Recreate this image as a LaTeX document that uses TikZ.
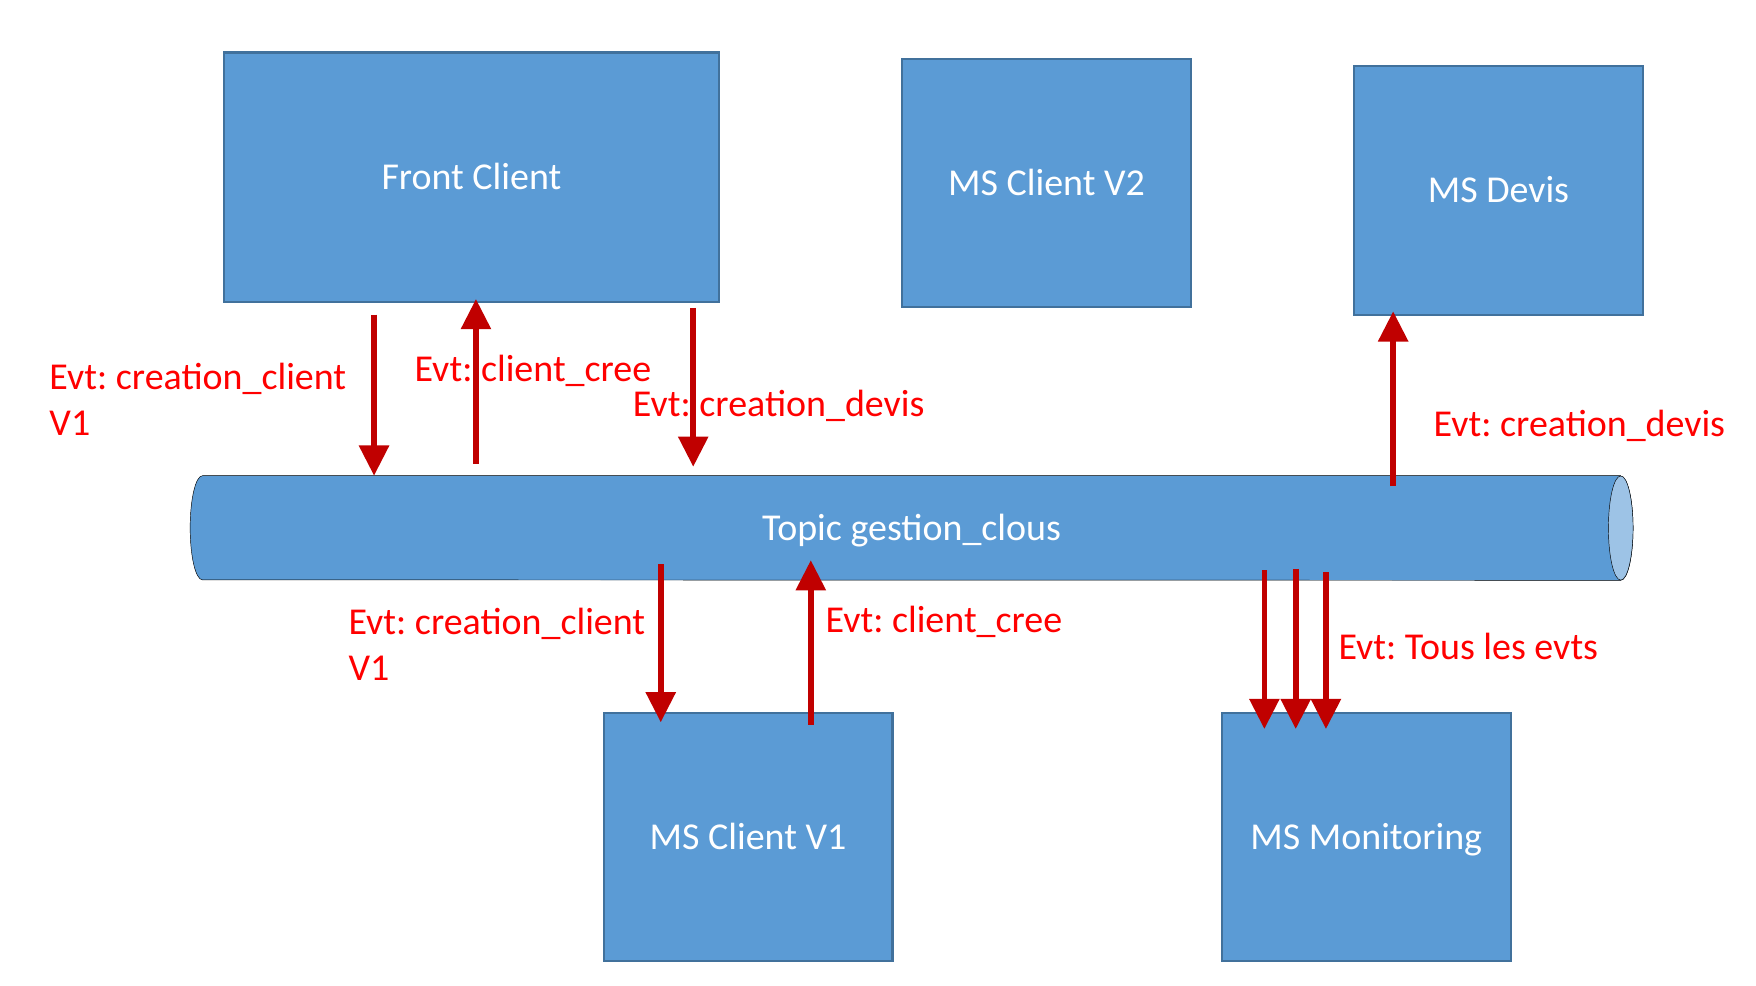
\documentclass[tikz,border=0pt]{standalone}
\usepackage{fontspec}
\setmainfont{Carlito}
\usetikzlibrary{arrows.meta,backgrounds}
\definecolor{boxblue}{HTML}{5B9BD5}
\definecolor{boxedge}{HTML}{41719C}
\definecolor{endblue}{HTML}{9DC3E6}
\definecolor{evtred}{HTML}{C00000}
\definecolor{lblred}{HTML}{FF0000}
\frenchspacing

\begin{document}
\begin{tikzpicture}[x=1pt,y=1pt,
    every node/.style={font=\fontsize{33.9}{41}\selectfont},
    service/.style={draw=boxedge,fill=boxblue,line width=2pt,text=white,
      inner sep=0pt,text height=21.7pt,text depth=0pt,
      minimum width=258pt,minimum height=222pt},
    evt/.style={evtred,line width=5pt,-{Triangle[width=26pt,length=27pt]}},
    lbl/.style={text=lblred,anchor=west,align=left,inner sep=0pt}]
  \useasboundingbox (0,-4.6) rectangle (1568,875);
  % services
  \node[service,minimum width=442pt,minimum height=223pt] (front) at (421,716.5) {Front Client};
  \node[service,minimum height=221pt] (clientv2) at (934.5,711.5) {MS Client V2};
  \node[service] (devis) at (1338,705) {MS Devis};
  \node[service,minimum height=221pt] (clientv1) at (668,127.5) {MS Client V1};
  \node[service,minimum height=221pt] (monitoring) at (1220,127.5) {MS Monitoring};
  % topic
  \node[text=white,inner sep=0pt,text height=21.7pt,text depth=0pt,
    minimum width=1266pt,minimum height=93pt] (topic) at (814,403.5) {Topic gestion\_clous};
  \begin{scope}[on background layer,draw=boxedge,line width=2pt]
    \filldraw[fill=boxblue] (topic.north east) -- (topic.north west)
      arc[start angle=90,end angle=270,x radius=11,y radius=46.5]
      -- (topic.south east)
      arc[start angle=-90,end angle=90,x radius=11,y radius=46.5] -- cycle;
    \filldraw[fill=endblue] (topic.east) ellipse [x radius=11,y radius=46.5];
  \end{scope}
  % events
  \coordinate (c1) at (334,594);
  \draw[evt] (c1) -- (c1 |- topic.north);
  \coordinate (p1) at (425,461);
  \draw[evt] (p1) -- ([yshift=4pt]p1 |- front.south);
  \coordinate (c2) at (619,600);
  \draw[evt] (c2) -- ([yshift=8pt]c2 |- topic.north);
  \coordinate (p2) at (1244,441);
  \draw[evt] (p2) -- ([yshift=4pt]p2 |- devis.south);
  \coordinate (c3) at (590,371);
  \draw[evt] (c3) -- ([yshift=-9pt]c3 |- clientv1.north);
  \coordinate (p3) at (724,228);
  \draw[evt] (p3) -- ([yshift=18pt]p3 |- topic.south);
  \foreach \x/\y in {1129/366,1157/367,1184/364}
    \draw[evt] (\x,\y) -- ([yshift=-15pt]\x,0 |- monitoring.north);
  % labels
  \node[lbl] (l1) at (44,518.5) {Evt: creation\_client\\V1};
  \node[lbl] (l2) at (370,544) {Evt: client\_cree};
  \node[lbl] (l3) at (565,513) {Evt: creation\_devis};
  \node[lbl] (l4) at (1280,495) {Evt: creation\_devis};
  \node[lbl] (l5) at (311,299.5) {Evt: creation\_client\\V1};
  \node[lbl] (l6) at (737,320) {Evt: client\_cree};
  \node[lbl] (l7) at (1195,298) {Evt: Tous les evts};
\end{tikzpicture}
\end{document}
